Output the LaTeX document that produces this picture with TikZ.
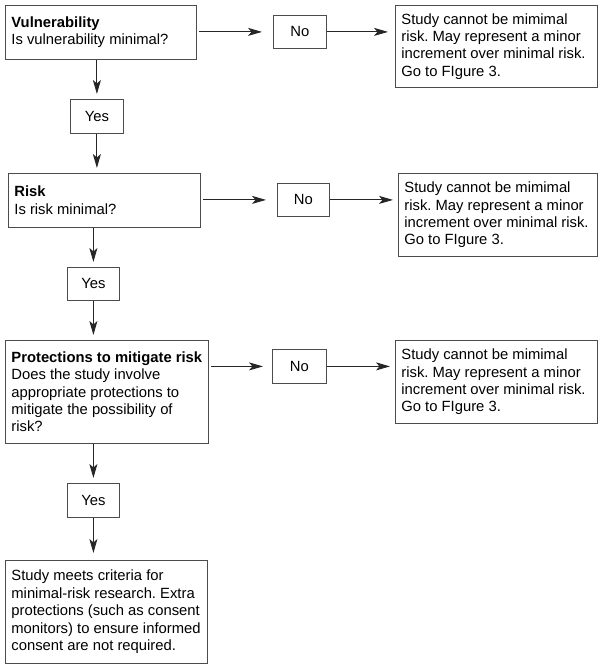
\documentclass[tikz,border=0pt]{standalone}
\usepackage{fontspec}
\setmainfont{Liberation Sans}
\usetikzlibrary{arrows.meta}
\frenchspacing
\newcommand{\fsz}{\fontsize{14.8}{17.4}\selectfont\frenchspacing}
\tikzset{
  box/.style={draw=black!70, line width=0.8pt, inner xsep=6pt, inner ysep=0pt,
    align=flush left, font=\fsz, anchor=north west},
  small/.style={draw=black!70, line width=0.8pt, inner sep=0pt, align=center,
    font=\fsz, anchor=north west},
  conn/.style={draw=black!85, line width=0.9pt, -{Stealth[length=14pt,width=8pt,inset=3.5pt]}}
}
\begin{document}
\begin{tikzpicture}[x=1pt,y=1pt]
\useasboundingbox (0,0) rectangle (603,-669);
% row 1
\node[box, text width=179pt, minimum height=54pt] (v1) at (5,-5)
  {\textbf{Vulnerability}\\Is vulnerability minimal?};
\node[small, minimum width=53pt, minimum height=33pt] (n1) at (273,-15) {No};
\node[box, text width=190pt, minimum height=82pt] (r1) at (395,-5)
  {Study cannot be mimimal\\risk. May represent a minor\\increment over minimal risk.\\Go to FIgure 3.};
\node[small, minimum width=53pt, minimum height=34pt] (y1) at (70,-99) {Yes};
% row 2
\node[box, text width=180pt, minimum height=54pt] (v2) at (8,-173)
  {\textbf{Risk}\\Is risk minimal?};
\node[small, minimum width=52pt, minimum height=33pt] (n2) at (277,-183) {No};
\node[box, text width=187pt, minimum height=83pt] (r2) at (398,-173)
  {Study cannot be mimimal\\risk. May represent a minor\\increment over minimal risk.\\Go to FIgure 3.};
\node[small, minimum width=52pt, minimum height=33pt] (y2) at (67,-267) {Yes};
% row 3
\node[box, text width=191pt, minimum height=103pt] (v3) at (5,-340)
  {\textbf{Protections to mitigate risk}\\Does the study involve\\appropriate protections to\\mitigate the possibility of\\risk?};
\node[small, minimum width=54pt, minimum height=34pt] (n3) at (272,-349) {No};
\node[box, text width=190pt, minimum height=83pt] (r3) at (395,-340)
  {Study cannot be mimimal\\risk. May represent a minor\\increment over minimal risk.\\Go to FIgure 3.};
\node[small, minimum width=52pt, minimum height=34pt] (y3) at (67,-483) {Yes};
% final
\node[box, text width=190pt, minimum height=103pt] (f) at (5,-560)
  {Study meets criteria for\\minimal-risk research. Extra\\protections (such as consent\\monitors) to ensure informed\\consent are not required.};
% connectors
\draw[conn, shorten <=2pt, shorten >=11pt] (v1.east |- n1.west) -- (n1.west);
\draw[conn, shorten >=7pt] (n1.east) -- (n1.east -| r1.west);
\draw[conn, shorten >=5pt] (y1.north |- v1.south) -- (y1.north);
\draw[conn, shorten >=5pt] (y1.south) -- (y1.south |- v2.north);
\draw[conn, shorten <=2pt, shorten >=11pt] (v2.east |- n2.west) -- (n2.west);
\draw[conn, shorten >=5pt] (n2.east) -- (n2.east -| r2.west);
\draw[conn, shorten >=5pt] (y2.north |- v2.south) -- (y2.north);
\draw[conn, shorten >=5pt] (y2.south) -- (y2.south |- v3.north);
\draw[conn, shorten <=2pt, shorten >=9pt] (v3.east |- n3.west) -- (n3.west);
\draw[conn, shorten >=5pt] (n3.east) -- (n3.east -| r3.west);
\draw[conn, shorten >=5pt] (y3.north |- v3.south) -- (y3.north);
\draw[conn, shorten >=7pt] (y3.south) -- (y3.south |- f.north);
\end{tikzpicture}
\end{document}
